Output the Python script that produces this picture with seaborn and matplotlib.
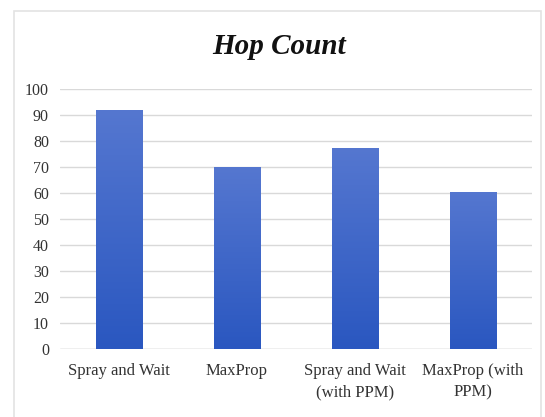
import numpy as np
import pandas as pd
import matplotlib
matplotlib.use("Agg")
import matplotlib.pyplot as plt
import seaborn as sns
from matplotlib.colors import LinearSegmentedColormap
from matplotlib.patches import Rectangle

protocols = ["Spray and Wait", "MaxProp", "Spray and Wait\n(with PPM)", "MaxProp (with\nPPM)"]
hop_count = [92, 70, 77.5, 60.5]
y_ticks = list(range(0, 101, 10))

df = pd.DataFrame({"protocol": protocols, "hops": hop_count})

sns.set_theme(style="white")
plt.rcParams["font.family"] = ["Liberation Serif", "DejaVu Serif"]

fig = plt.figure(figsize=(5.45, 4.17), dpi=100)
ax = fig.add_axes([60 / 545, 1 - 349 / 417, 472 / 545, 259.7 / 417])

sns.barplot(data=df, x="protocol", y="hops", color="#3a64c8",
            width=0.39, ax=ax, zorder=2)

# excel-like vertical gradient on each bar
grad = LinearSegmentedColormap.from_list("blue_grad", ["#2a57c0", "#5577d0"])
g = np.linspace(0, 1, 256).reshape(-1, 1)
for bar in ax.patches:
    x0 = bar.get_x()
    w = bar.get_width()
    h = bar.get_height()
    im = ax.imshow(g, cmap=grad, origin="lower", aspect="auto",
                   extent=[x0, x0 + w, 0, h], zorder=3)
    im.set_clip_path(bar)
    bar.set_edgecolor("#3f66c6")
    bar.set_linewidth(0.6)

ax.set_xlim(-0.5, 3.5)
ax.set_ylim(0, 100)
ax.set_yticks(y_ticks)
ax.yaxis.grid(True, color="#d9d9d9", linewidth=1.0, zorder=0)
ax.set_axisbelow(True)
for s in ax.spines.values():
    s.set_visible(False)
ax.axhline(0, color="#d0d0d0", linewidth=1.0, zorder=1)

ax.tick_params(axis="y", length=0, pad=8, labelsize=11.5, labelcolor="#333333")
ax.tick_params(axis="x", length=0, pad=10, labelsize=12, labelcolor="#333333")
for lab in ax.get_xticklabels():
    lab.set_linespacing(1.5)
ax.set_xlabel("")
ax.set_ylabel("")

fig.text(279 / 545, 1 - 47 / 417, "Hop Count", ha="center", va="center",
         fontsize=21, fontweight="bold", fontstyle="italic", color="#111111")

# thin chart-area border
fig.patches.append(Rectangle((14 / 545, -0.05), 527 / 545, 1 - 11 / 417 + 0.05,
                             transform=fig.transFigure, fill=False,
                             edgecolor="#e3e3e3", linewidth=1.2))

fig.savefig("out.png", dpi=100)
